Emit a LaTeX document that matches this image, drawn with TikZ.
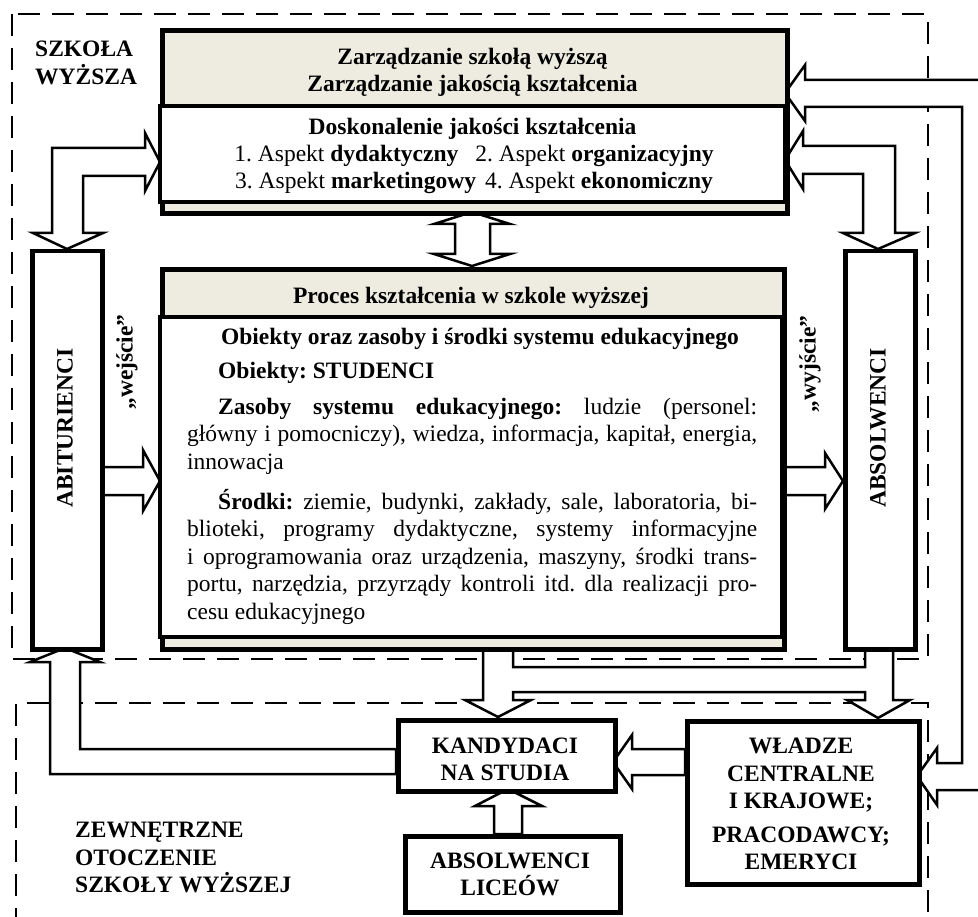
\documentclass[tikz,border=0pt]{standalone}
\usepackage{fontspec}
\setmainfont{Liberation Serif}
\definecolor{beige}{HTML}{EEECE1}
\newcommand\fs{\fontsize{23.5pt}{27.5pt}\selectfont\frenchspacing}
\begin{document}
\begin{tikzpicture}[x=1pt,y=-1pt,line join=miter]
\tikzset{
  dashbox/.style={line width=2.5pt, dash pattern=on 22pt off 12pt},
  barrow/.style={draw=black, fill=white, line width=2.5pt},
  sbox/.style={draw, line width=4.5pt, fill=white, inner sep=0pt, anchor=north west},
  bigbox/.style={draw, line width=5pt, fill=beige, inner sep=0pt, anchor=north west},
  lbl/.style={font=\fs\bfseries, inner sep=0pt, anchor=base},
  txt/.style={font=\fs, inner sep=0pt, anchor=base west}
}
\useasboundingbox (0,0) rectangle (978,917);
% dashed regions
\draw[dashbox] (12,14) rectangle (928,659);
\draw[dashbox] (16,930) -- (16,703) -- (928,703) -- (928,930);
% block arrows
\draw[barrow] (160,162) -- (145,133) -- (145,148) -- (52,148) -- (52,233) -- (33,233) -- (67,249) -- (103,233) -- (83,233) -- (83,176) -- (145,176) -- (145,191) -- cycle;
\draw[barrow] (785,160) -- (803,131) -- (803,146) -- (895,146) -- (895,233) -- (915,233) -- (878,249) -- (843,233) -- (863,233) -- (863,174) -- (803,174) -- (803,189) -- cycle;
\draw[barrow] (785,93) -- (805,65) -- (805,80) -- (995,80) -- (995,790) -- (937,790) -- (937,805) -- (917,776) -- (937,748) -- (937,763) -- (962,763) -- (962,107) -- (805,107) -- (805,121) -- cycle;
\draw[barrow] (472,212) -- (510,224) -- (490,224) -- (490,254) -- (510,254) -- (472,266) -- (434,254) -- (455,254) -- (455,224) -- (434,224) -- cycle;
\draw[barrow] (100,467) -- (143,467) -- (143,450) -- (160,481) -- (143,511) -- (143,495) -- (100,495) -- cycle;
\draw[barrow] (782,467) -- (825,467) -- (825,453) -- (843,481) -- (825,509) -- (825,495) -- (782,495) -- cycle;
\draw[barrow] (483,645) -- (483,700) -- (465,700) -- (498,717) -- (531,700) -- (513,700) -- (513,692) -- (865,692) -- (865,700) -- (847,700) -- (878,718) -- (910,700) -- (893,700) -- (893,645) -- (865,645) -- (865,667) -- (513,667) -- (513,645) -- cycle;
\draw[barrow] (396,749) -- (80,749) -- (80,662) -- (100,662) -- (65,648) -- (30,662) -- (50,662) -- (50,774) -- (396,774) -- cycle;
\draw[barrow] (685,749) -- (632,749) -- (632,735) -- (613,762) -- (632,789) -- (632,775) -- (685,775) -- cycle;
\draw[barrow] (494,834) -- (494,806) -- (475,806) -- (508,789) -- (542,806) -- (522,806) -- (522,834) -- cycle;
% top box
\node[bigbox, minimum width=625pt, minimum height=183pt] (top) at (160,28) {};
\draw[line width=4.5pt, fill=white] (160,106) rectangle (785,202);
% process box
\node[bigbox, minimum width=622pt, minimum height=380pt] (proc) at (160,267) {};
\draw[line width=4.5pt, fill=white] (160,317) rectangle (782,637);
% side and bottom boxes
\node[sbox, minimum width=70pt, minimum height=398pt] (abit) at (30,249) {};
\node[sbox, minimum width=70pt, minimum height=398pt] (absol) at (843,249) {};
\node[sbox, minimum width=217pt, minimum height=71pt] (kand) at (396,718) {};
\node[sbox, minimum width=215pt, minimum height=76pt] (lic) at (403,834) {};
\node[sbox, minimum width=232pt, minimum height=163pt] (wladze) at (685,719) {};
% texts
\node[font=\fs\bfseries, inner sep=0pt, anchor=base west, align=left] at (35,84.5) {SZKOŁA\\WYŻSZA};
\node[font=\fs\bfseries, inner sep=0pt, anchor=base west, align=left] at (75,892.5) {ZEWNĘTRZNE\\OTOCZENIE\\SZKOŁY WYŻSZEJ};
\node[lbl] at (472.5,65) {Zarządzanie szkołą wyższą};
\node[lbl] at (472.5,92) {Zarządzanie jakością kształcenia};
\node[lbl] at (472.5,135) {Doskonalenie jakości kształcenia};
\node[font=\fs, inner sep=0pt, anchor=base] at (474,162) {1. Aspekt \textbf{dydaktyczny}\hspace{17pt}2. Aspekt \textbf{organizacyjny}};
\node[font=\fs, inner sep=0pt, anchor=base] at (474,189) {3. Aspekt \textbf{marketingowy}\hspace{9pt}4. Aspekt \textbf{ekonomiczny}};
\node[lbl] at (471,304) {Proces kształcenia w szkole wyższej};
\node[lbl] at (480,345) {Obiekty oraz zasoby i środki systemu edukacyjnego};
\node[txt] at (218,379) {\textbf{Obiekty: STUDENCI}};
\node[txt] at (187,414) {\begin{minipage}[t]{570pt}\fs\setlength{\parindent}{31pt}\indent\textbf{Zasoby systemu edukacyjnego:} ludzie (personel:\linebreak główny i pomocniczy), wiedza, informacja, kapitał, energia,\linebreak innowacja\end{minipage}};
\node[txt] at (187,509) {\begin{minipage}[t]{570pt}\fs\setlength{\parindent}{31pt}\indent\textbf{Środki:} ziemie, budynki, zakłady, sale, laboratoria, bi-\linebreak blioteki, programy dydaktyczne, systemy informacyjne\linebreak i~oprogramowania oraz urządzenia, maszyny, środki trans-\linebreak portu, narzędzia, przyrządy kontroli itd. dla realizacji pro-\linebreak cesu edukacyjnego\end{minipage}};
\node[font=\fs\bfseries, inner sep=0pt, rotate=90] at (65,428) {ABITURIENCI};
\node[font=\fs\bfseries, inner sep=0pt, rotate=90] at (127,362) {„wejście”};
\node[font=\fs\bfseries, inner sep=0pt, rotate=90] at (878,428) {ABSOLWENCI};
\node[font=\fs\bfseries, inner sep=0pt, rotate=90] at (810,364) {„wyjście”};
\node[lbl, align=center] at (505,780.5) {KANDYDACI\\NA STUDIA};
\node[lbl, align=center] at (510,895.5) {ABSOLWENCI\\LICEÓW};
\node[lbl, align=center] at (801,869.5) {WŁADZE\\CENTRALNE\\I KRAJOWE;\\[6pt]PRACODAWCY;\\EMERYCI};
\end{tikzpicture}
\end{document}
